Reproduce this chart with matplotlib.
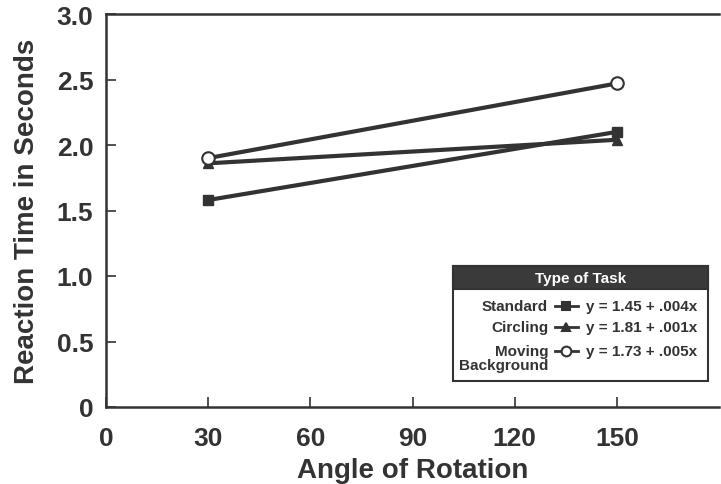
import matplotlib
matplotlib.use("Agg")
import matplotlib.pyplot as plt
from matplotlib.patches import Rectangle
from matplotlib.lines import Line2D

plt.rcParams['font.family'] = ['Liberation Sans', 'DejaVu Sans']
plt.rcParams['font.weight'] = 'bold'

angles = [30, 150]
standard = [1.58, 2.10]
circling = [1.86, 2.04]
moving = [1.90, 2.47]
series_names = ["Standard", "Circling", "Moving\nBackground"]
equations = ["y = 1.45 + .004x", "y = 1.81 + .001x", "y = 1.73 + .005x"]
xticks = [0, 30, 60, 90, 120, 150]
yticks = [0, 0.5, 1.0, 1.5, 2.0, 2.5, 3.0]
ytick_labels = ["0", "0.5", "1.0", "1.5", "2.0", "2.5", "3.0"]

C = "#333333"
W, H = 721, 485
fig = plt.figure(figsize=(W / 100, H / 100), dpi=100)
ax = fig.add_axes([106 / W, (H - 408) / H, (719 - 106) / W, (408 - 15) / H])

lw = 3.0
ax.plot(angles, moving, color=C, lw=lw, marker='o', ms=9, mfc='white', mec=C, mew=1.5, zorder=3)
ax.plot(angles, circling, color=C, lw=lw, marker='^', ms=7, mfc=C, mec=C, zorder=2)
ax.plot(angles, standard, color=C, lw=lw, marker='s', ms=7.5, mfc=C, mec=C, zorder=4)

ax.set_xlim(0, 180)
ax.set_ylim(0, 3.0)
ax.set_xticks(xticks)
ax.set_xticklabels([str(v) for v in xticks])
ax.set_yticks(yticks)
ax.set_yticklabels(ytick_labels)
ax.tick_params(direction='in', length=7, width=1.2, colors=C, labelsize=19)
ax.tick_params(axis='x', pad=14)
ax.tick_params(axis='y', pad=9)
for lab in ax.get_xticklabels() + ax.get_yticklabels():
    lab.set_fontweight('bold')
for s in ['left', 'bottom', 'top']:
    ax.spines[s].set_color(C)
    ax.spines[s].set_linewidth(1.8)
ax.spines['right'].set_visible(False)
ax.set_xlabel("Angle of Rotation", fontsize=20, fontweight='bold', color=C, labelpad=5)
ax.set_ylabel("Reaction Time in Seconds", fontsize=20, fontweight='bold', color=C, labelpad=12)

# Custom legend drawn in pixel coordinates
lx0, ly0, lx1, ly1 = 453, 267, 708, 382
lax = fig.add_axes([lx0 / W, (H - ly1) / H, (lx1 - lx0) / W, (ly1 - ly0) / H])
lax.set_xlim(lx0, lx1)
lax.set_ylim(ly1, ly0)
lax.axis('off')
lax.add_patch(Rectangle((lx0, ly0), lx1 - lx0, ly1 - ly0, facecolor='white', edgecolor=C, lw=1.5,
                        clip_on=False))
lax.add_patch(Rectangle((lx0, ly0), lx1 - lx0, 23, facecolor='#3a3a3a', edgecolor=C, lw=1.5,
                        clip_on=False))
lax.text((lx0 + lx1) / 2, ly0 + 12, "Type of Task", color='white', fontsize=11, fontweight='bold',
         ha='center', va='center')
markers = [('s', C), ('^', C), ('o', 'white')]
rows_y = [307, 328, 352]
for name, eq, (m, fc), yy in zip(series_names, equations, markers, rows_y):
    lines = name.split("\n")
    lax.text(548, yy, lines[0], ha='right', va='center', fontsize=11, fontweight='bold', color=C)
    if len(lines) > 1:
        lax.text(548, yy + 14, lines[1], ha='right', va='center', fontsize=11, fontweight='bold', color=C)
    lax.add_line(Line2D([555, 578], [yy, yy], color=C, lw=2.0, clip_on=False))
    lax.plot([566], [yy], marker=m, ms=6 if m != 'o' else 7, mfc=fc, mec=C, mew=1.5, clip_on=False)
    lax.text(586, yy, eq, ha='left', va='center', fontsize=11, fontweight='bold', color=C)

fig.savefig("out.png", dpi=100)
